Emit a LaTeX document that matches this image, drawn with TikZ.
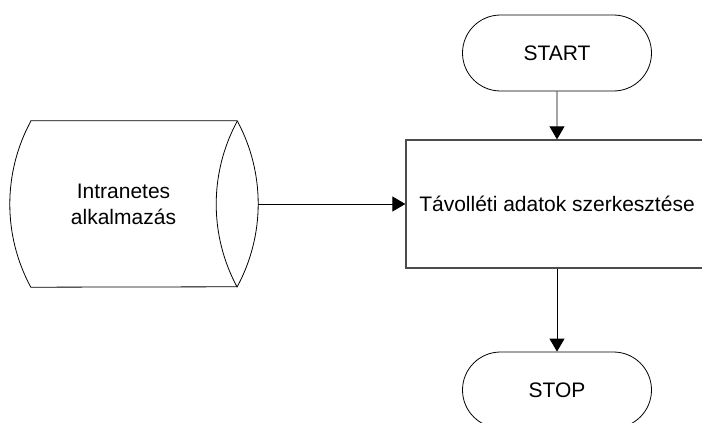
\documentclass[tikz,border=0pt]{standalone}
\usepackage{fontspec}
\setmainfont{Liberation Sans}
\usetikzlibrary{shapes.misc, arrows.meta}

\tikzset{
    terminal/.style={draw, line width=0.8pt, rounded rectangle, minimum width=189pt, minimum height=76pt, inner sep=0pt},
    process/.style={draw=black!70, line width=1.3pt, rectangle, minimum width=302pt, minimum height=128pt, inner sep=0pt},
    store/.style={rectangle, minimum width=185pt, minimum height=166pt, inner sep=0pt, align=center},
    flow/.style={line width=0.8pt, -{Triangle[width=15pt,length=13pt]}}
}

\begin{document}
\begin{tikzpicture}[x=1pt, y=1pt, font=\fontsize{21}{26}\selectfont]
    \clip (0,0) rectangle (702,-423);

    % Nodes
    \node[terminal] (start) at (557,-53) {START};
    \node[process] (edit) at (557,-204) {Távolléti adatok szerkesztése};
    \node[terminal] (stop) at (557,-390) {STOP};
    \node[store] (app) at (123.5,-204) {Intranetes\\alkalmazás};

    % Stored data outline
    \draw[line width=0.8pt] (app.north west) -- ([xshift=21pt]app.north east)
        arc[start angle=28.4, end angle=-28.4, radius=174.5]
        -- (app.south west)
        arc[start angle=208.4, end angle=151.6, radius=174.5] -- cycle;
    \draw[line width=0.8pt] ([xshift=21pt]app.south east)
        arc[start angle=208.4, end angle=151.6, radius=174.5];
    \coordinate (appout) at ([xshift=42pt]app.east);

    % Connectors
    \draw[flow] (start) -- (edit);
    \draw[flow] (edit) -- (stop);
    \draw[flow] (appout) -- (edit);
\end{tikzpicture}
\end{document}
